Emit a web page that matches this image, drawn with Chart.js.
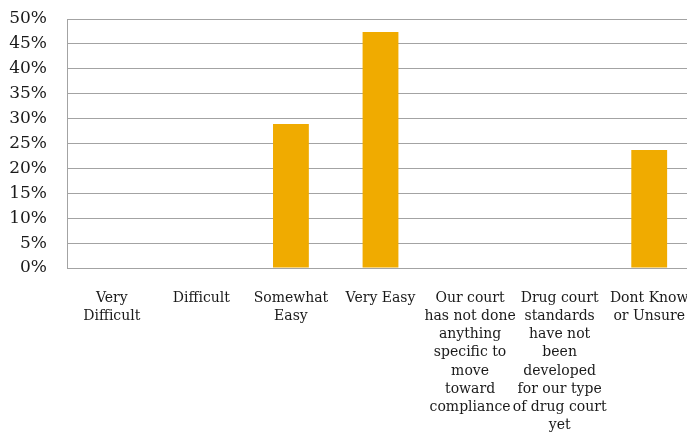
<!DOCTYPE html>
<html>
<head>
<meta charset="utf-8">
<script src="https://cdn.jsdelivr.net/npm/chart.js@4"></script>
<style>
  html, body { margin: 0; padding: 0; background: #fff; overflow: hidden; }
  #wrap { width: 694px; height: 434px; }
</style>
</head>
<body>
<div id="wrap"><canvas id="chart"></canvas></div>
<script>
// Categorías (etiquetas partidas en líneas como en el original)
const categories = [
    ['Very', 'Difficult'],
    ['Difficult'],
    ['Somewhat', 'Easy'],
    ['Very Easy'],
    ['Our court', 'has not done', 'anything', 'specific to', 'move', 'toward', 'compliance'],
    ['Drug court', 'standards', 'have not', 'been', 'developed', 'for our type', 'of drug court', 'yet'],
    ['Dont Know', 'or Unsure']
];
// Porcentaje de respuestas
const responses = [0, 0, 28.9, 47.4, 0, 0, 23.7];
const yTicks = [0, 5, 10, 15, 20, 25, 30, 35, 40, 45, 50];

const barColor = '#F0AB00';
const gridColor = '#a3a3a3';
const textColor = '#1a1a1a';

new Chart(document.getElementById('chart').getContext('2d'), {
    type: 'bar',
    data: {
        labels: categories,
        datasets: [{
            data: responses,
            backgroundColor: barColor,
            borderWidth: 0,
            barPercentage: 0.4,
            categoryPercentage: 1
        }]
    },
    options: {
        responsive: true,
        maintainAspectRatio: false,
        animation: false,
        layout: { autoPadding: false, padding: { left: 8, top: 19, right: 0, bottom: 0 } },
        scales: {
            y: {
                min: yTicks[0],
                max: yTicks[yTicks.length - 1],
                afterBuildTicks: axis => { axis.ticks = yTicks.map(v => ({ value: v })); },
                afterFit: axis => {
                    axis.width = 59;
                    axis.paddingTop = 0;
                    axis.paddingBottom = 0;
                },
                ticks: {
                    callback: v => v + '%',
                    color: textColor,
                    padding: 20,
                    autoSkip: false,
                    font: { family: 'DejaVu Serif', size: 17 }
                },
                grid: { color: gridColor, drawTicks: false },
                border: { color: gridColor }
            },
            x: {
                afterFit: axis => {
                    axis.height = 166;
                    axis.paddingLeft = 0;
                    axis.paddingRight = 0;
                },
                ticks: {
                    color: textColor,
                    padding: 21,
                    maxRotation: 0,
                    autoSkip: false,
                    font: { family: 'DejaVu Serif', size: 14, lineHeight: 1.3 }
                },
                grid: { display: false, drawTicks: false },
                border: { color: gridColor }
            }
        },
        plugins: {
            legend: { display: false },
            tooltip: { enabled: false }
        }
    }
});
</script>
</body>
</html>
